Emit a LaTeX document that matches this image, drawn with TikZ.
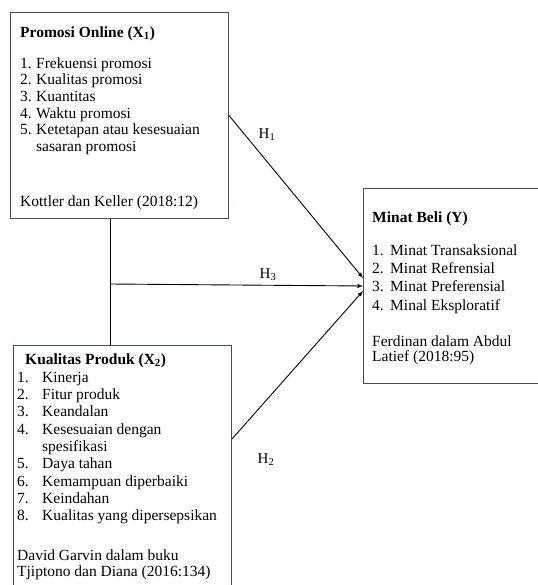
\documentclass[tikz,border=0pt]{standalone}
\usepackage{fontspec}
\setmainfont{Liberation Serif}
\definecolor{boxline}{RGB}{62,78,110}
\newcommand\fl{\rule{0pt}{12pt}}
\newcommand\nr[2][16pt]{\makebox[#1][l]{#2}}
\begin{document}
\begin{tikzpicture}
	[x=1pt,y=-1pt,
	 box/.style={draw=boxline,line width=1pt,anchor=north west,inner sep=0pt},
	 txt/.style={anchor=north west,inner sep=0pt,align=left,font=\fontsize{15.5}{16.7}\selectfont},
	 hyp/.style={inner sep=0pt,font=\fontsize{15}{16}\selectfont},
	 link/.style={line width=0.9pt,black},>=latex]
    \useasboundingbox (0,0) rectangle (537,585);
    \node[box,minimum width=218pt,minimum height=206pt] (X1) at (10,12) {};
    \node[box,minimum width=218pt,minimum height=245pt] (X2) at (13,345) {};
    \node[box,minimum width=190pt,minimum height=195pt] (Y) at (363,188) {};
    % promosi online
    \node[txt] (X1head) at (20,25) {\fl\textbf{Promosi Online (X\textsubscript{1})}};
    \node[txt] (X1list) at (20,56) {\fl\nr{1.}Frekuensi promosi\\ \nr{2.}Kualitas promosi\\ \nr{3.}Kuantitas\\
        \nr{4.}Waktu promosi\\ \nr{5.}Ketetapan atau kesesuaian\\ \nr{}sasaran promosi};
    \node[txt] (X1src) at (20,194) {\fl Kottler dan Keller (2018:12)};
    % kualitas produk
    \node[txt] (X2head) at (25,352) {\fl\textbf{Kualitas Produk (X\textsubscript{2})}};
    \node[txt,font=\fontsize{15.5}{17.3}\selectfont] (X2list) at (17,370) {\fl\nr[25pt]{1.}Kinerja\\ \nr[25pt]{2.}Fitur produk\\
        \nr[25pt]{3.}Keandalan\\ \nr[25pt]{4.}Kesesuaian dengan\\ \nr[25pt]{}spesifikasi\\ \nr[25pt]{5.}Daya tahan\\
        \nr[25pt]{6.}Kemampuan diperbaiki\\ \nr[25pt]{7.}Keindahan\\ \nr[25pt]{8.}Kualitas yang dipersepsikan};
    \node[txt,font=\fontsize{15.5}{16}\selectfont] (X2src) at (17,548) {\fl David Garvin dalam buku\\ Tjiptono dan Diana (2016:134)};
    % minat beli
    \node[txt] (Yhead) at (372,210) {\fl\textbf{Minat Beli (Y)}};
    \node[txt,font=\fontsize{15.5}{18.3}\selectfont] (Ylist) at (372,243) {\fl\nr[18pt]{1.}Minat Transaksional\\
        \nr[18pt]{2.}Minat Refrensial\\ \nr[18pt]{3.}Minat Preferensial\\ \nr[18pt]{4.}Minal Eksploratif};
    \node[txt,font=\fontsize{15.5}{15.5}\selectfont] (Ysrc) at (372,334) {\fl Ferdinan dalam Abdul\\ Latief (2018:95)};
    % hipotesis
    \coordinate (j) at (110,284);
    \draw[link] (X1.south -| j) -- (X2.north -| j);
    \draw[link,->] (X1.east) -- ([yshift=8pt]Y.west);
    \draw[link,->] (j) -- (Y.west);
    \draw[link,->] ([yshift=29pt]X2.east) -- ([yshift=-5pt]Y.west);
    \node[hyp] (H1) at (267,135) {H\textsubscript{1}};
    \node[hyp] (H3) at (268,275) {H\textsubscript{3}};
    \node[hyp] (H2) at (266,460) {H\textsubscript{2}};
\end{tikzpicture}
\end{document}
